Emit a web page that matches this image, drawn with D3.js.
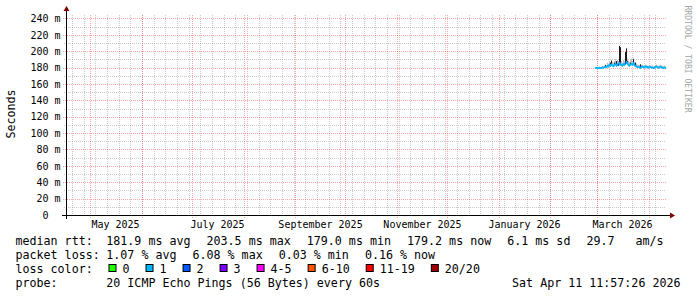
<!DOCTYPE html>
<html>
<head>
<meta charset="utf-8">
<script src="https://cdn.jsdelivr.net/npm/d3@7"></script>
<style>
html, body { margin: 0; padding: 0; background: #fff; }
svg { display: block; }
text { font-family: "DejaVu Sans Mono", monospace; white-space: pre; fill: #000; }
</style>
</head>
<body>
<svg id="chart" width="697" height="297"></svg>
<script>
// time window (last 360 days, ending at the stamp)
const rangeEnd = new Date("2026-04-11T11:57:26Z");
const rangeStart = d3.utcDay.offset(rangeEnd, -360);

// samples: one every 14.4 hours starting here
const dataStart = new Date("2026-02-27T21:00:00Z");
const stepHours = 14.4;

// median rtt (ms)
const medianMs = [
    179.6, 179.4, 179.8, 179.5, 179.9, 179.6, 179.4, 180.2, 179.8, 180.5, 181.2, 180.4,
    182.0, 181.3, 183.5, 182.2, 184.0, 182.6, 181.8, 183.2, 184.5, 182.4, 183.8, 182.9,
    186.0, 184.0, 183.0, 182.2, 184.2, 183.4, 185.0, 187.0, 185.2, 183.0, 182.4, 183.6,
    184.5, 183.2, 185.8, 182.8, 182.0, 181.4, 180.6, 180.9, 180.2, 179.6, 180.8, 181.3,
    180.7, 180.1, 181.6, 180.9, 180.4, 179.8, 181.0, 180.6, 179.9, 180.3, 179.5, 179.9,
    180.8, 181.4, 180.6, 179.9, 180.2, 181.1, 180.5, 179.8, 179.4, 180.3, 179.2
];
// light smoke band (ms)
const smokeLoMs = [
    178.6, 178.4, 178.8, 178.5, 178.9, 178.6, 178.4, 179.1, 178.8, 179.4, 179.9, 179.3,
    180.6, 180.1, 181.8, 180.8, 182.2, 181.2, 180.5, 181.7, 182.6, 181.0, 182.1, 181.4,
    183.8, 182.2, 181.5, 180.9, 182.4, 181.9, 183.0, 184.5, 183.2, 181.6, 181.0, 182.1,
    182.8, 181.7, 183.7, 181.3, 180.6, 180.2, 179.5, 179.8, 179.1, 178.6, 179.7, 180.1,
    179.6, 179.0, 180.3, 179.7, 179.3, 178.8, 179.8, 179.5, 178.9, 179.2, 178.5, 178.9,
    179.6, 180.2, 179.5, 178.9, 179.1, 179.9, 179.4, 178.8, 178.4, 179.2, 178.3
];
const smokeHiMs = [
    181, 180.5, 181, 180.8, 181.2, 181, 180.8, 182, 181.5, 182.5, 184, 183,
    186, 185, 188, 186.5, 189, 187, 186, 188, 190, 187, 189, 188,
    191, 189, 188, 186, 189, 188, 192, 193, 191, 188, 187, 189,
    191, 188, 192, 187, 186, 185, 183.5, 183.5, 183, 182, 183, 183.5,
    182.5, 182, 183.5, 183, 182.5, 182, 183, 182.8, 182, 182.5, 181.5, 182,
    183, 183.5, 182.5, 182, 182.5, 183.5, 182.5, 181.8, 181.5, 182.2, 181
];
// dense (dark) smoke top, from the median up (null = none)
const darkHiMs = [
    null, null, null, null, null, null, null, null, null, null, 183, null,
    null, null, null, 186, 188.5, null, null, 186, null, 188, null, null,
    206.5, 205, null, null, null, null, 199, 203.5, 188, null, null, 186,
    null, null, 190, null, 186, null, null, null, null, 184, null, null,
    null, null, null, null, null, null, null, null, null, null, null, null,
    null, null, null, null, null, null, null, null, null, null, null
];
// lost pings out of 20
const lossPings = [
    1, 1, 1, 1, 1, 1, 1, 1, 1, 1, 1, 1,
    1, 1, 1, 1, 1, 1, 1, 1, 1, 1, 1, 1,
    2, 1, 1, 1, 1, 1, 1, 2, 1, 1, 1, 1,
    1, 1, 1, 1, 1, 1, 1, 1, 1, 1, 1, 1,
    1, 1, 1, 1, 1, 1, 1, 1, 1, 1, 1, 1,
    1, 1, 1, 1, 1, 1, 1, 1, 1, 1, 1
];

const lossLabels = ["0", "1", "2", "3", "4-5", "6-10", "11-19", "20/20"];
const lossColors = ["#26ff00", "#00b8ff", "#0059ff", "#7e00ff", "#ff00ff", "#ff5500", "#ff0000", "#a10000"];

const yTickValues = [0, 20, 40, 60, 80, 100, 120, 140, 160, 180, 200, 220, 240];
const yMinorValues = [10, 30, 50, 70, 90, 110, 130, 150, 170, 190, 210, 230];
const xLabelMonths = ["2025-05-01", "2025-07-01", "2025-09-01", "2025-11-01", "2026-01-01", "2026-03-01"];

const rttStats = ["181.9 ms avg", "203.5 ms max", "179.0 ms min", "179.2 ms now", "6.1 ms sd", "29.7   am/s"];
const lossStats = ["1.07 % avg", "6.08 % max", "0.03 % min", "0.16 % now"];
const probeText = "20 ICMP Echo Pings (56 Bytes) every 60s";
const stampText = "Sat Apr 11 11:57:26 2026";

// layout
const x0 = 66, x1 = 666, y0 = 215, y1 = 15;
const yMax = 244.2;
const charW = 7.02;
const legendFont = "11.66px";

const svg = d3.select("#chart");

const xScale = d3.scaleUtc().domain([rangeStart, rangeEnd]).range([x0, x1]).interpolate(d3.interpolateRound);
const yScale = d3.scaleLinear().domain([0, yMax]).range([y0, y1]);

function lossClass(n) {
    if (n <= 3) return n;
    if (n <= 5) return 4;
    if (n <= 10) return 5;
    if (n <= 19) return 6;
    return 7;
}

//grid
const minorCol = "rgba(128,128,128,0.42)";
const majorCol = "rgba(255,0,0,0.35)";
const grid = svg.append("g");

const weeks = d3.utcSunday.range(rangeStart, rangeEnd);
const months = d3.utcMonth.range(rangeStart, rangeEnd);

grid.selectAll(".vminor").data(weeks).enter().append("line")
    .attr("x1", d => xScale(d) + 0.5).attr("x2", d => xScale(d) + 0.5)
    .attr("y1", y1).attr("y2", y0 + 2)
    .attr("stroke", minorCol).attr("stroke-dasharray", "1,1");
grid.selectAll(".vmajor").data(months).enter().append("line")
    .attr("x1", d => xScale(d) + 0.5).attr("x2", d => xScale(d) + 0.5)
    .attr("y1", y1).attr("y2", y0 + 3)
    .attr("stroke", majorCol).attr("stroke-dasharray", "1,1");

grid.selectAll(".hminor").data(yMinorValues).enter().append("line")
    .attr("x1", x0 - 2).attr("x2", x1)
    .attr("y1", d => Math.round(yScale(d)) + 0.5).attr("y2", d => Math.round(yScale(d)) + 0.5)
    .attr("stroke", minorCol).attr("stroke-dasharray", "1,1");
grid.selectAll(".hmajor").data(yTickValues.filter(v => v > 0)).enter().append("line")
    .attr("x1", x0 - 3).attr("x2", x1)
    .attr("y1", d => Math.round(yScale(d)) + 0.5).attr("y2", d => Math.round(yScale(d)) + 0.5)
    .attr("stroke", majorCol).attr("stroke-dasharray", "1,1");

//data
const samples = medianMs.map((m, i) => {
    const t = new Date(dataStart.getTime() + i * stepHours * 3600e3);
    const t2 = new Date(t.getTime() + stepHours * 3600e3);
    return {t, t2, m, lo: smokeLoMs[i], hi: smokeHiMs[i], dark: darkHiMs[i], cls: lossClass(lossPings[i])};
});

const plot = svg.append("g");
plot.selectAll(".smoke").data(samples).enter().append("rect")
    .attr("x", d => xScale(d.t))
    .attr("width", d => Math.max(1, xScale(d.t2) - xScale(d.t)))
    .attr("y", d => yScale(d.hi))
    .attr("height", d => yScale(d.lo) - yScale(d.hi))
    .attr("fill", "#bdbdbd");

plot.selectAll(".dark").data(samples.filter(d => d.dark != null)).enter().append("rect")
    .attr("x", d => xScale(d.t))
    .attr("width", d => Math.max(1, xScale(d.t2) - xScale(d.t)))
    .attr("y", d => yScale(d.dark))
    .attr("height", d => yScale(d.m) - yScale(d.dark))
    .attr("fill", "#1c1c1c");

const line = d3.line().x(d => xScale(d.t) + 0.5).y(d => yScale(d.m));
const segs = samples.slice(1).map((d, i) => [samples[i], d]);
plot.selectAll(".med").data(segs).enter().append("path")
    .attr("d", line)
    .attr("fill", "none")
    .attr("stroke", d => lossColors[d[1].cls])
    .attr("stroke-width", 1.6)
    .attr("stroke-linecap", "round");

//axes
svg.append("line").attr("x1", x0 - 4).attr("x2", x1 + 4).attr("y1", y0 + 0.5).attr("y2", y0 + 0.5).attr("stroke", "#000");
svg.append("line").attr("x1", x0 + 0.5).attr("x2", x0 + 0.5).attr("y1", y0 + 4).attr("y2", y1 - 4).attr("stroke", "#000");
svg.append("path").attr("d", `M${x1 + 4},${y0 - 2.5}L${x1 + 9},${y0 + 0.5}L${x1 + 4},${y0 + 3.5}Z`).attr("fill", "#7f0000");
svg.append("path").attr("d", `M${x0 - 2.5},${y1 - 4}L${x0 + 0.5},${y1 - 9}L${x0 + 3.5},${y1 - 4}Z`).attr("fill", "#7f0000");

const yAxis = svg.append("g").attr("transform", "translate(60.5,0)")
    .call(d3.axisLeft(yScale).tickValues(yTickValues).tickSize(0).tickPadding(0)
        .tickFormat(v => v === 0 ? "0  " : v + " m"));
yAxis.select(".domain").remove();
yAxis.selectAll("text").attr("font-family", "DejaVu Sans Mono").attr("font-size", "10px").attr("fill", "#000");

const labelDates = xLabelMonths.map(s => d3.utcDay.offset(new Date(s + "T00:00:00Z"), 15));
const xAxis = svg.append("g").attr("transform", `translate(0,${y0})`)
    .call(d3.axisBottom(xScale).tickValues(labelDates).tickSize(0).tickPadding(6)
        .tickFormat(d => d3.utcFormat("%B %Y")(d3.utcMonth.floor(d))));
xAxis.select(".domain").remove();
xAxis.selectAll("text").attr("font-family", "DejaVu Sans Mono").attr("font-size", "10px").attr("fill", "#000");

// vertical unit label + watermark
svg.append("text").attr("transform", "translate(15,114) rotate(-90)")
    .attr("text-anchor", "middle").style("font-size", legendFont).text("Seconds");
svg.append("text").attr("transform", "translate(684.5,59) rotate(90)")
    .attr("text-anchor", "middle").style("font-size", "8.1px").style("fill", "#a6a6a6")
    .text("RRDTOOL / TOBI OETIKER");

//legend
const legX = 15.5, valX = 106.3, gap = 16;
const rows = [245, 259, 273, 287];
const leg = svg.append("g").style("font-size", legendFont);

function flowRow(items, y) {
    let x = valX;
    items.forEach(s => {
        leg.append("text").attr("x", x).attr("y", y).text(s);
        x += s.length * charW + gap;
    });
}

leg.append("text").attr("x", legX).attr("y", rows[0]).text("median rtt:");
flowRow(rttStats, rows[0]);
leg.append("text").attr("x", legX).attr("y", rows[1]).text("packet loss:");
flowRow(lossStats, rows[1]);

leg.append("text").attr("x", legX).attr("y", rows[2]).text("loss color:");
let bx = 108.5;
lossLabels.forEach((lab, i) => {
    leg.append("rect").attr("x", bx + 0.5).attr("y", rows[2] - 8.5).attr("width", 7).attr("height", 7)
        .attr("fill", lossColors[i]).attr("stroke", "#000");
    leg.append("text").attr("x", bx + 14).attr("y", rows[2]).text(lab);
    bx += 14 + lab.length * charW + gap;
});

leg.append("text").attr("x", legX).attr("y", rows[3]).text("probe:");
leg.append("text").attr("x", valX).attr("y", rows[3]).text(probeText);
leg.append("text").attr("x", 680.5).attr("y", rows[3]).attr("text-anchor", "end").text(stampText);
</script>
</body>
</html>
